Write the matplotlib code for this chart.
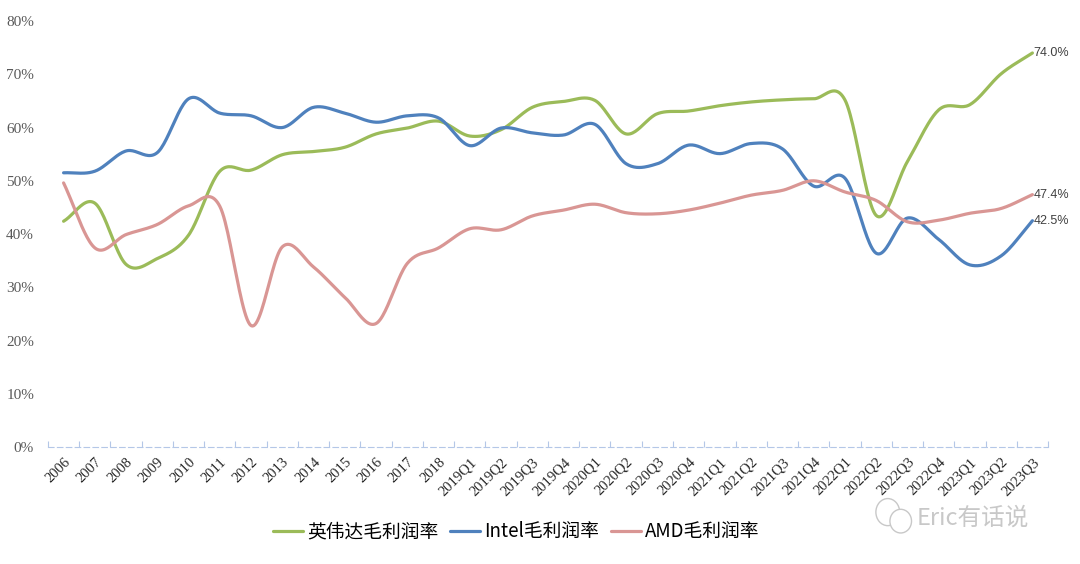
import numpy as np
import matplotlib
matplotlib.use("Agg")
import matplotlib.pyplot as plt
from matplotlib.patches import Ellipse

categories = ["2006", "2007", "2008", "2009", "2010", "2011", "2012", "2013", "2014",
              "2015", "2016", "2017", "2018",
              "2019Q1", "2019Q2", "2019Q3", "2019Q4",
              "2020Q1", "2020Q2", "2020Q3", "2020Q4",
              "2021Q1", "2021Q2", "2021Q3", "2021Q4",
              "2022Q1", "2022Q2", "2022Q3", "2022Q4",
              "2023Q1", "2023Q2", "2023Q3"]

nvidia = [42.4, 45.8, 34.3, 35.4, 39.8, 51.8, 52.0, 54.9, 55.5, 56.3, 58.8, 59.9, 61.2,
          58.4, 59.6, 63.8, 64.9, 65.1, 58.8, 62.6, 63.1, 64.1, 64.8, 65.2, 65.4,
          65.2, 43.5, 53.6, 63.3, 64.3, 70.1, 74.0]
intel = [51.5, 51.8, 55.6, 55.3, 65.4, 62.7, 62.2, 60.0, 63.8, 62.7, 61.0, 62.2, 61.8,
         56.6, 59.9, 59.0, 58.6, 60.6, 53.2, 53.2, 56.7, 55.1, 57.0, 56.0, 49.0,
         50.5, 36.4, 43.0, 39.0, 34.2, 35.9, 42.5]
amd = [49.6, 37.4, 39.9, 41.8, 45.3, 45.2, 22.8, 37.6, 33.8, 28.1, 23.2, 34.5, 37.4,
       41.0, 40.8, 43.4, 44.5, 45.6, 44.0, 43.8, 44.5, 45.8, 47.3, 48.2, 50.0,
       47.9, 46.3, 42.3, 42.6, 43.9, 44.8, 47.4]

series_names = ["英伟达毛利润率", "Intel毛利润率", "AMD毛利润率"]
colors = ["#9bbb59", "#4f81bd", "#d99694"]
end_labels = ["74.0%", "42.5%", "47.4%"]


def smooth(y, n=24):
    """Catmull-Rom (Excel-style) smoothing through the data points."""
    y = np.asarray(y, dtype=float) / 100.0
    x = np.arange(len(y), dtype=float)
    xs, ys = [], []
    for i in range(len(y) - 1):
        p0 = y[i - 1] if i > 0 else y[i]
        p1 = y[i]
        p2 = y[i + 1]
        p3 = y[i + 2] if i + 2 < len(y) else y[i + 1]
        m1 = (p2 - p0) / 2.0
        m2 = (p3 - p1) / 2.0
        if i == 0:
            m1 = (p2 - p1)
        if i + 2 >= len(y):
            m2 = (p2 - p1)
        t = np.linspace(0, 1, n, endpoint=False)
        h00 = 2 * t**3 - 3 * t**2 + 1
        h10 = t**3 - 2 * t**2 + t
        h01 = -2 * t**3 + 3 * t**2
        h11 = t**3 - t**2
        xs.extend(x[i] + t)
        ys.extend(h00 * p1 + h10 * m1 + h01 * p2 + h11 * m2)
    xs.append(x[-1])
    ys.append(y[-1])
    return np.array(xs), np.array(ys)


fig = plt.figure(figsize=(10.8, 5.64), dpi=100)
ax = fig.add_axes([0.0444, 0.2074, 0.926, 0.7553])

data = [nvidia, intel, amd]
handles = []
for vals, c, name in zip(data, colors, series_names):
    xs, ys = smooth(vals)
    h, = ax.plot(xs, ys, color=c, lw=2.3, solid_capstyle="round", label=name)
    handles.append(h)

for vals, c, lab in zip(data, colors, end_labels):
    ax.text(len(vals) - 1 + 0.03, vals[-1] / 100.0, lab, fontsize=9,
            family=["Liberation Sans", "DejaVu Sans"], color="#404040",
            va="center", ha="left")

ax.set_xlim(-0.5, len(categories) - 0.5)
ax.set_ylim(0, 0.8)
ax.set_yticks(np.arange(0, 0.81, 0.1))
ax.set_yticklabels([f"{int(round(v*100))}%" for v in np.arange(0, 0.81, 0.1)],
                   family="Liberation Serif", fontsize=11, color="#595959")
ax.tick_params(axis="y", length=0, pad=10)

ax.set_xticks(np.arange(len(categories)))
ax.set_xticklabels(categories, rotation=45, ha="right", va="top",
                   rotation_mode="anchor", family="Liberation Serif",
                   fontsize=10.5, color="#262626")
ax.tick_params(axis="x", which="major", length=0, pad=6)
ax.set_xticks(np.arange(-0.5, len(categories)), minor=True)
ax.tick_params(axis="x", which="minor", direction="in", length=4,
               color="#b4c7e7", width=0.8)

for s in ["top", "right", "left"]:
    ax.spines[s].set_visible(False)
ax.spines["bottom"].set_color("#b4c7e7")
ax.spines["bottom"].set_linewidth(0.8)
ax.spines["bottom"].set_linestyle((0, (5, 3)))

leg = fig.legend(handles=handles, labels=series_names, loc="center",
                 bbox_to_anchor=(0.478, 0.057), ncol=3, frameon=False,
                 prop={"family": ["Noto Sans CJK SC", "DejaVu Sans"], "size": 13.5},
                 handlelength=1.6, handletextpad=0.25, columnspacing=0.6)

# watermark
fig.text(0.849, 0.082, "Eric有话说", fontsize=17, color="#c8c8c8",
         family=["Noto Sans CJK SC", "DejaVu Sans"], ha="left", va="center",
         fontweight="light")
fig.patches.append(Ellipse((0.822, 0.092), 0.022, 0.048, transform=fig.transFigure,
                           fill=False, ec="#c8c8c8", lw=1.0))
fig.patches.append(Ellipse((0.834, 0.076), 0.02, 0.042, transform=fig.transFigure,
                           fill=True, fc="white", ec="#c8c8c8", lw=1.0))

fig.savefig("out.png", dpi=100, facecolor="white")
